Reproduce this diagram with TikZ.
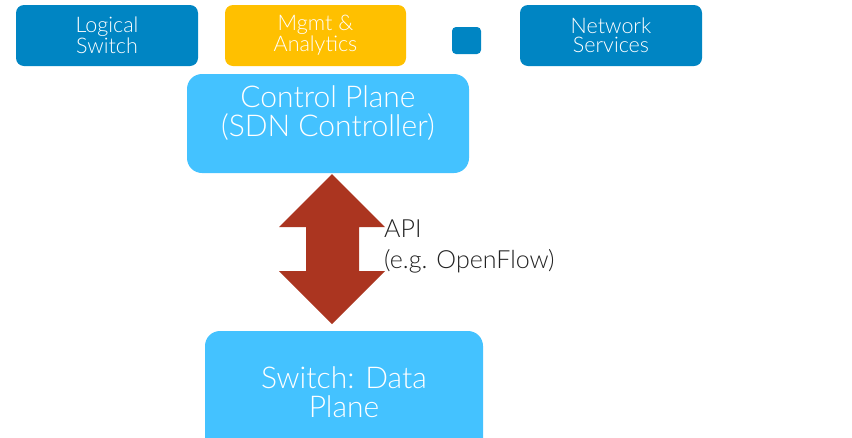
\documentclass[tikz,border=0pt]{standalone}
\usepackage{fontspec}
\setmainfont{Lato}[UprightFont=* Light]
\usetikzlibrary{calc}
\definecolor{dellblue}{HTML}{0085C3}
\definecolor{mgmtyellow}{HTML}{FFC000}
\definecolor{planeblue}{HTML}{44C2FF}
\definecolor{apired}{HTML}{AB3520}
\definecolor{textdark}{HTML}{222222}
\begin{document}
\begin{tikzpicture}[x=1pt,y=-1pt,
  appbox/.style={rounded corners=8pt,minimum width=182pt,minimum height=61pt,inner sep=0pt,
    text=white,align=center,font=\fontsize{21.5}{18.5}\selectfont},
  planebox/.style={fill=planeblue,rounded corners=15pt,inner sep=0pt},
  planetext/.style={text=white,align=center,font=\fontsize{30}{29}\selectfont,inner sep=0pt},
]
\useasboundingbox (0,0) rectangle (852,437);
\clip (0,0) rectangle (852,437);

% application layer
\node[appbox,fill=dellblue] (ls) at (107,35.5) {Logical\\Switch};
\node[appbox,fill=mgmtyellow,minimum width=181pt] (ma) at (315.5,35.5) {Mgmt \&\\Analytics};
\node[fill=dellblue,rounded corners=4pt,minimum width=29pt,minimum height=27pt,inner sep=0pt] (sq) at (466.5,40.5) {};
\node[appbox,fill=dellblue] (ns) at (611,35.5) {Network\\Services};

% control plane (text anchored on the baseline of its last line)
\node[planebox,minimum width=282pt,minimum height=99pt] (cp) at (328,123.5) {};
\node[planetext,anchor=base] (cpt) at (328,136) {Control Plane\\(SDN Controller)};

% data plane
\node[planebox,minimum width=278pt,minimum height=130pt] (dp) at (344,396) {};
\node[planetext,anchor=base] (dpt) at (344,417) {Switch: Data\\Plane};

% double-headed API arrow
\coordinate (atop) at (332,174);
\coordinate (abot) at (332,324);
\fill[apired] (atop) -- ($(atop)+(53,53)$) -- ($(atop)+(27,53)$) -- ($(abot)+(27,-53)$)
  -- ($(abot)+(53,-53)$) -- (abot) -- ($(abot)+(-53,-53)$) -- ($(abot)+(-26,-53)$)
  -- ($(atop)+(-26,53)$) -- ($(atop)+(-53,53)$) -- cycle;

\node[anchor=base west,inner sep=0pt,text=textdark,align=left,font=\fontsize{25}{31}\selectfont] (api) at (384,268) {API\\(e.g. OpenFlow)};
\end{tikzpicture}
\end{document}
